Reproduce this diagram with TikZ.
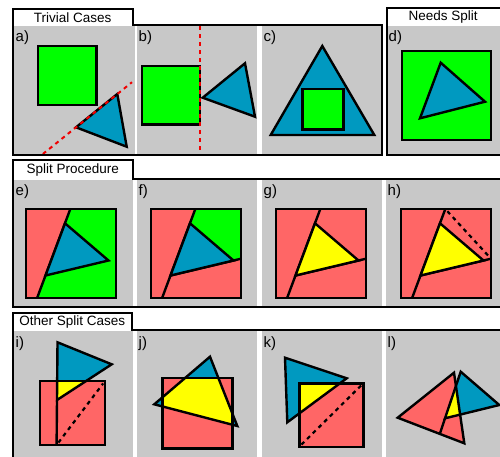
\documentclass[tikz,border=0pt]{standalone}
\usepackage{fontspec}
\setmainfont{Liberation Sans}
\usetikzlibrary{calc}
\definecolor{pgray}{RGB}{200,200,200}
\definecolor{pgreen}{RGB}{0,255,0}
\definecolor{pblue}{RGB}{0,153,192}
\definecolor{pred}{RGB}{255,102,102}
\definecolor{pyellow}{RGB}{255,255,0}
\definecolor{dashred}{RGB}{240,0,0}
\newcommand\splitpts[1]{%
  \coordinate (#1O) at (0,0);
  \coordinate (#1Q) at (90,0);
  \coordinate (#1S) at (90,89);
  \coordinate (#1Z) at (0,89);
  \coordinate (#1A) at (44.3,0);
  \coordinate (#1B) at (11.1,89);
  \coordinate (#1T) at (39,14.3);
  \coordinate (#1R) at (82.5,51.5);
  \coordinate (#1L) at (19.5,66.5);
  \coordinate (#1C) at (90,49.7);}
\begin{document}
\begin{tikzpicture}[x=1pt,y=-1pt,
  panel/.style={fill=pgray},
  shp/.style={draw=black,line width=2.4pt,line join=miter},
  grp/.style={draw=black,line width=2pt},
  tabtext/.style={font=\fontsize{13.5}{14}\selectfont,anchor=base,inner sep=0pt},
  lbl/.style={font=\fontsize{15}{16}\selectfont,anchor=base west,inner sep=0pt},
  cut/.style={draw=dashred,line width=2pt,dash pattern=on 4pt off 4pt},
  bcut/.style={draw=black,line width=2.2pt,dash pattern=on 4pt off 4pt,shorten <=3pt,shorten >=3pt}]
\useasboundingbox (0,0) rectangle (500,456);
\clip (0,0) rectangle (500,456);
\fill[white] (0,0) rectangle (500,456);

% ---------------- row 1 ----------------
% a
\fill[panel] (14,26) rectangle (135,153.5);
\draw[shp,fill=pgreen] (38,46) rectangle (96.5,105);
\draw[shp,fill=pblue] (76,127.3) -- (117.3,94) -- (126.7,146.7) -- cycle;
\draw[cut] (42.9,154) -- (132,82.2);
\node[lbl] (la) at (15.5,41.5) {a)};
% b
\fill[panel] (137,26) rectangle (257,153.5);
\draw[shp,fill=pgreen] (142,66) rectangle (200,124.3);
\draw[shp,fill=pblue] (202.7,97.7) -- (245,63.3) -- (255,116.7) -- cycle;
\draw[cut] (200,26) -- (200,154);
\node[lbl] (lb) at (138.5,41.5) {b)};
% c
\fill[panel] (262,26) rectangle (380.5,153.5);
\draw[shp,fill=pblue] (322.3,46) -- (374.3,135) -- (270.7,135) -- cycle;
\draw[shp,fill=pgreen] (302.3,89) rectangle (343.3,129.3);
\node[lbl] (lc) at (263.5,41.5) {c)};
% d
\fill[panel] (388,25.5) rectangle (500,153.5);
\draw[shp,fill=pgreen] (402,51) rectangle (491,140);
\draw[shp,fill=pblue] (440.7,62.7) -- (485,101.7) -- (420,118.3) -- cycle;
\node[lbl] (ld) at (388.5,41.5) {d)};

% ---------------- row 2 ----------------
\fill[panel] (14,179.5) rectangle (133,306);
\fill[panel] (137,179.5) rectangle (257,306);
\fill[panel] (262,179.5) rectangle (382,306);
\fill[panel] (386,179.5) rectangle (500,306);
% e
\begin{scope}[shift={(26,209)}]
  \splitpts{e}
  \fill[pred] (eO) -- (eA) -- (eB) -- (eZ) -- cycle;
  \fill[pgreen] (eA) -- (eQ) -- (eS) -- (eB) -- cycle;
  \draw[shp] (eA) -- (eB);
  \draw[shp,fill=pblue] (eT) -- (eR) -- (eL) -- cycle;
  \draw[shp] (eO) rectangle (eS);
\end{scope}
\node[lbl] (le) at (15.5,195) {e)};
% f
\begin{scope}[shift={(151,209)}]
  \splitpts{f}
  \fill[pred] (fO) -- (fA) -- (fB) -- (fZ) -- cycle;
  \fill[pgreen] (fA) -- (fQ) -- (fC) -- (fL) -- cycle;
  \fill[pred] (fL) -- (fC) -- (fS) -- (fB) -- cycle;
  \draw[shp] (fA) -- (fB);
  \draw[shp] (fL) -- (fC);
  \draw[shp,fill=pblue] (fT) -- (fR) -- (fL) -- cycle;
  \draw[shp] (fO) rectangle (fS);
\end{scope}
\node[lbl] (lf) at (138.5,195) {f)};
% g
\begin{scope}[shift={(276,209)}]
  \splitpts{g}
  \fill[pred] (gO) rectangle (gS);
  \draw[shp] (gA) -- (gB);
  \draw[shp] (gL) -- (gC);
  \draw[shp,fill=pyellow] (gT) -- (gR) -- (gL) -- cycle;
  \draw[shp] (gO) rectangle (gS);
\end{scope}
\node[lbl] (lg) at (263.5,195) {g)};
% h
\begin{scope}[shift={(401,209)}]
  \splitpts{h}
  \fill[pred] (hO) rectangle (hS);
  \draw[shp] (hA) -- (hB);
  \draw[shp] (hL) -- (hC);
  \draw[shp,fill=pyellow] (hT) -- (hR) -- (hL) -- cycle;
  \draw[bcut] (hA) -- (hC);
  \draw[shp] (hO) rectangle (hS);
\end{scope}
\node[lbl] (lh) at (387.5,195) {h)};

% ---------------- row 3 ----------------
% i
\fill[panel] (14,330.5) rectangle (133,460);
\fill[pred] (40,381) rectangle (105,445);
\fill[pblue] (57.5,342.3) -- (111.7,364.3) -- (57,400) -- cycle;
\begin{scope}
  \clip (40,381) rectangle (105,445);
  \fill[pyellow] (57.5,342.3) -- (111.7,364.3) -- (57,400) -- cycle;
\end{scope}
\draw[bcut] (56.6,445) -- (105,381);
\draw[shp] (57,400) -- (56.6,445);
\draw[shp] (40,381) rectangle (105,445);
\draw[shp] (57.5,342.3) -- (111.7,364.3) -- (57,400) -- cycle;
\node[lbl] (li) at (15.5,347) {i)};
% j
\fill[panel] (137,330.5) rectangle (257,460);
\fill[pred] (162.3,377.7) rectangle (232.3,448.3);
\fill[pblue] (210,356.7) -- (237.3,426) -- (154.3,404.3) -- cycle;
\begin{scope}
  \clip (162.3,377.7) rectangle (232.3,448.3);
  \fill[pyellow] (210,356.7) -- (237.3,426) -- (154.3,404.3) -- cycle;
\end{scope}
\draw[shp] (162.3,377.7) rectangle (232.3,448.3);
\draw[shp] (210,356.7) -- (237.3,426) -- (154.3,404.3) -- cycle;
\node[lbl] (lj) at (138.5,347) {j)};
% k
\fill[panel] (262,330.5) rectangle (382,460);
\fill[pred] (299.3,383.3) rectangle (363.3,446.7);
\fill[pblue] (285,357.7) -- (346.7,378.3) -- (287.3,422.3) -- cycle;
\begin{scope}
  \clip (299.3,383.3) rectangle (363.3,446.7);
  \fill[pyellow] (285,357.7) -- (346.7,378.3) -- (287.3,422.3) -- cycle;
\end{scope}
\draw[bcut] (299.3,446.7) -- (363.3,383.3);
\draw[shp] (299.3,383.3) rectangle (363.3,446.7);
\draw[shp] (285,357.7) -- (346.7,378.3) -- (287.3,422.3) -- cycle;
\node[lbl] (lk) at (263.5,347) {k)};
% l
\fill[panel] (386,330.5) rectangle (500,460);
\fill[pred] (454,372.7) -- (397.7,417.7) -- (464.3,443.3) -- cycle;
\fill[pblue] (460.7,371.7) -- (499.3,405) -- (445,418.3) -- cycle;
\begin{scope}
  \clip (454,372.7) -- (397.7,417.7) -- (464.3,443.3) -- cycle;
  \fill[pyellow] (460.7,371.7) -- (499.3,405) -- (445,418.3) -- cycle;
\end{scope}
\draw[shp] (445,418.3) -- (439.8,433.9);
\draw[shp] (454,372.7) -- (397.7,417.7) -- (464.3,443.3) -- cycle;
\draw[shp] (460.7,371.7) -- (499.3,405) -- (445,418.3) -- cycle;
\node[lbl] (ll) at (387.5,347) {l)};

% ---------------- group frames ----------------
\draw[grp] (12.5,8.5) -- (133,8.5) -- (133,25) -- (382,25) -- (382,154.5) -- (12.5,154.5) -- cycle;
\draw[grp] (386.5,7.5) rectangle (502,154.5);
\draw[grp] (12.5,159.5) -- (133,159.5) -- (133,178.5) -- (502,178.5) -- (502,307) -- (12.5,307) -- cycle;
\draw[grp] (12.5,312.5) -- (132,312.5) -- (132,329.5) -- (502,329.5) -- (502,462) -- (12.5,462) -- cycle;

\node[tabtext] (t1) at (72.7,22.5) {Trivial Cases};
\node[tabtext] (t2) at (443.2,20) {Needs Split};
\node[tabtext] (t3) at (72.7,173.3) {Split Procedure};
\node[tabtext] (t4) at (72.2,325.7) {Other Split Cases};
\end{tikzpicture}
\end{document}
